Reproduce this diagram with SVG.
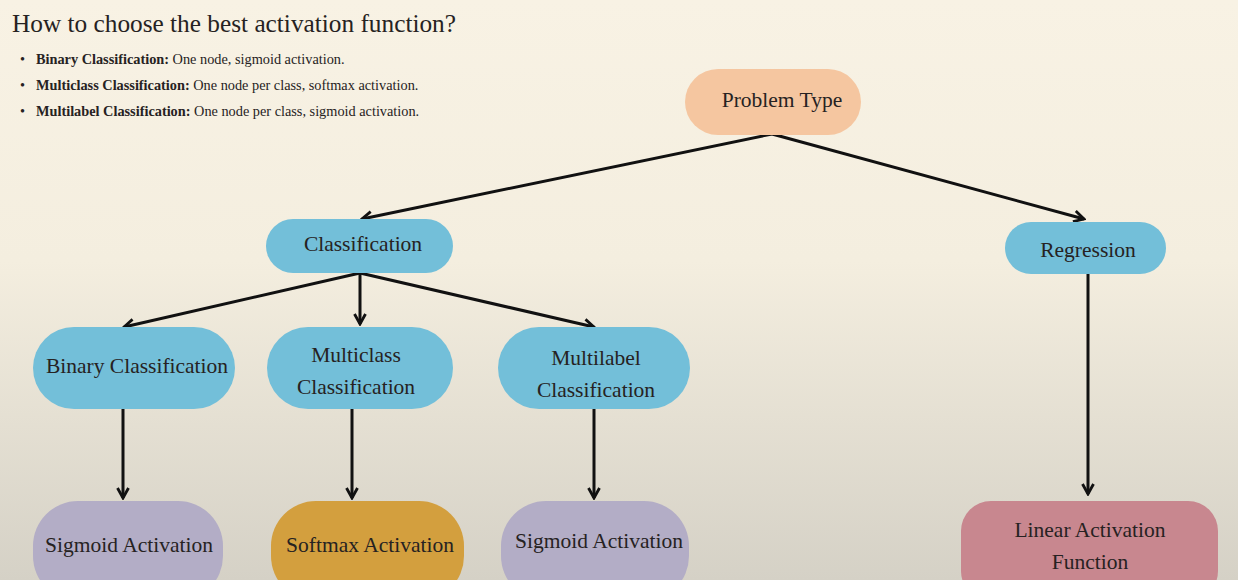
<svg xmlns="http://www.w3.org/2000/svg" width="1238" height="580" viewBox="0 0 1238 580">
<defs>
<linearGradient id="bg" x1="0" y1="0" x2="0" y2="1">
<stop offset="0" stop-color="#f8f2e4"/>
<stop offset="0.45" stop-color="#f4eedf"/>
<stop offset="1" stop-color="#d5d1c6"/>
</linearGradient>
<marker id="ah" viewBox="0 0 14 14" refX="12" refY="7" markerWidth="14" markerHeight="14" markerUnits="userSpaceOnUse" orient="auto">
<path d="M2,1.5 L12,7 L2,12.5" fill="none" stroke="#111" stroke-width="2.8"/>
</marker>
<style>
.t{font-family:"Liberation Serif","Times New Roman",serif;fill:#262222}
.n{font-size:21.5px;text-anchor:middle}
.c{fill:none;stroke:#111;stroke-width:3;marker-end:url(#ah)}
.blue{fill:#73bfd9}
.purp{fill:#b3adc6}
</style>
</defs>
<rect width="1238" height="580" fill="url(#bg)"/>
<text class="t" x="12" y="32" font-size="25.3">How to choose the best activation function?</text>
<g class="t" font-size="14.3">
<text x="20" y="64">•</text><text x="36" y="64"><tspan font-weight="bold">Binary Classification:</tspan> One node, sigmoid activation.</text>
<text x="20" y="90">•</text><text x="36" y="90"><tspan font-weight="bold">Multiclass Classification:</tspan> One node per class, softmax activation.</text>
<text x="20" y="116">•</text><text x="36" y="116"><tspan font-weight="bold">Multilabel Classification:</tspan> One node per class, sigmoid activation.</text>
</g>
<g id="connectors">
<path class="c" d="M772,134 L362,219"/>
<path class="c" d="M772,134 L1084,219"/>
<path class="c" d="M360,273 L124,327"/>
<path class="c" d="M360,273 L360,324"/>
<path class="c" d="M360,273 L594,327"/>
<path class="c" d="M123,409 L123,498"/>
<path class="c" d="M352,409 L352,498"/>
<path class="c" d="M594,409 L594,498"/>
<path class="c" d="M1088,273 L1088,494"/>
</g>
<g id="problem-type"><rect x="685" y="69" width="176" height="66" rx="33" fill="#f5c6a0"/><text class="t n" x="782" y="107">Problem Type</text></g>
<g id="classification"><rect class="blue" x="266" y="219" width="187" height="54" rx="27"/><text class="t n" x="363" y="251">Classification</text></g>
<g id="regression"><rect class="blue" x="1005" y="222" width="161" height="52" rx="26"/><text class="t n" x="1088" y="257">Regression</text></g>
<g id="binary"><rect class="blue" x="33" y="327" width="202" height="82" rx="41"/><text class="t n" x="137" y="373">Binary Classification</text></g>
<g id="multiclass"><rect class="blue" x="267" y="327" width="186" height="82" rx="41"/><text class="t n" x="356" y="362">Multiclass</text><text class="t n" x="356" y="394">Classification</text></g>
<g id="multilabel"><rect class="blue" x="498" y="327" width="192" height="82" rx="41"/><text class="t n" x="596" y="365">Multilabel</text><text class="t n" x="596" y="397">Classification</text></g>
<g id="sigmoid1"><rect class="purp" x="33" y="501" width="190" height="100" rx="45"/><text class="t n" x="129" y="552">Sigmoid Activation</text></g>
<g id="softmax"><rect x="271" y="501" width="193" height="100" rx="45" fill="#d39f3e"/><text class="t n" x="370" y="552">Softmax Activation</text></g>
<g id="sigmoid2"><rect class="purp" x="501" y="501" width="188" height="100" rx="45"/><text class="t n" x="599" y="548">Sigmoid Activation</text></g>
<g id="linear"><rect x="961" y="501" width="257" height="100" rx="30" fill="#c8878f"/><text class="t n" x="1090" y="537">Linear Activation</text><text class="t n" x="1090" y="569">Function</text></g>
</svg>
